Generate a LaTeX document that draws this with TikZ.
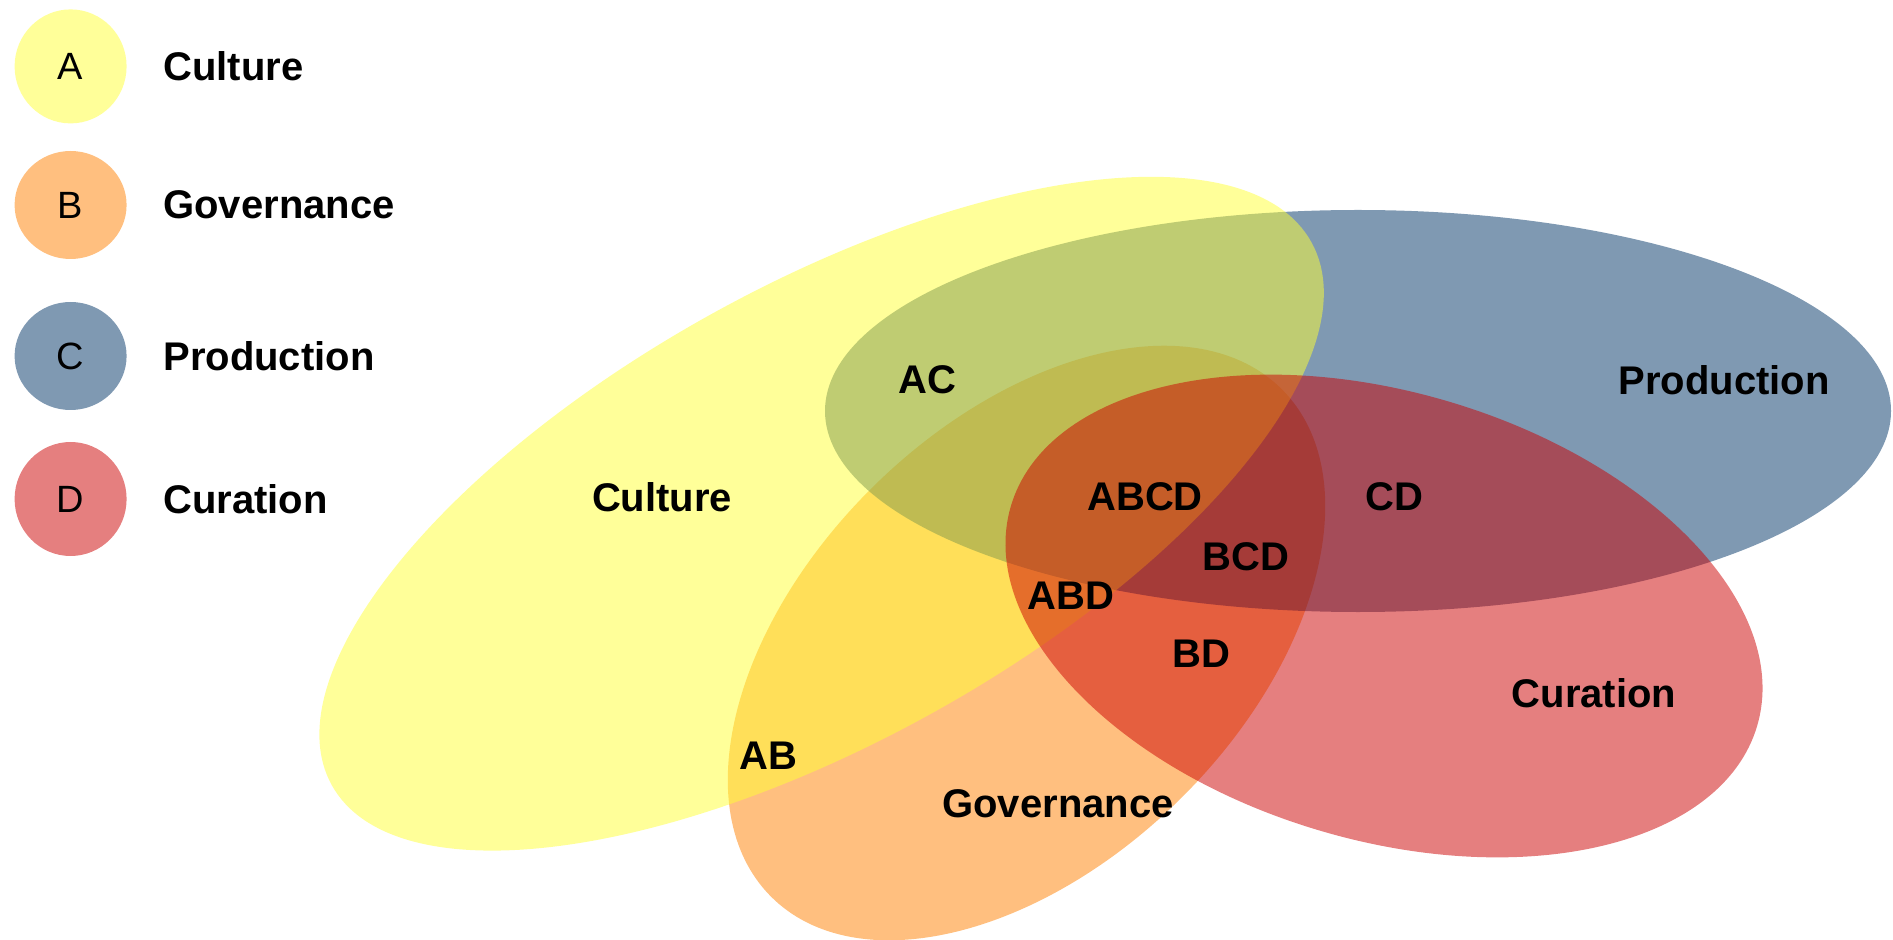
\documentclass[tikz,border=0pt]{standalone}
\usepackage{fontspec}
\setmainfont{Liberation Sans}
\definecolor{cA}{RGB}{255,255,51}
\definecolor{cB}{RGB}{255,128,0}
\definecolor{cC}{RGB}{0,51,102}
\definecolor{cD}{RGB}{204,0,0}
\begin{document}
\begin{tikzpicture}[x=0.5pt,y=0.5pt,
  lbl/.style={font=\fontsize{20}{24}\selectfont\bfseries, inner sep=0pt},
  key/.style={font=\fontsize{19}{22}\selectfont, inner sep=0pt},
  set/.style={fill opacity=0.5}]
\useasboundingbox (0,0) rectangle (1893,-940);
% big sets (order: B, C, A, D)
\fill[set, cB, rotate around={44.7:(1026.5,-643)}] (1026.5,-643) ellipse [x radius=360, y radius=219];
\fill[set, cC] (1358,-411) ellipse [x radius=533, y radius=201];
\fill[set, cA, rotate around={29:(821.6,-513.7)}] (821.6,-513.7) ellipse [x radius=560, y radius=228];
\fill[set, cD, rotate around={-16.4:(1384,-616)}] (1384,-616) ellipse [x radius=389, y radius=224];
% legend
\fill[set, cA] (70.6,-66.4) ellipse [x radius=56, y radius=57];
\fill[set, cB] (70.6,-205) ellipse [x radius=56, y radius=54];
\fill[set, cC] (70.6,-356) ellipse [x radius=56, y radius=54];
\fill[set, cD] (70.6,-499) ellipse [x radius=56, y radius=57];
\node[key] (kA) at (70.6,-66.4) {A};
\node[key] (kB) at (70.6,-205) {B};
\node[key] (kC) at (70.6,-356) {C};
\node[key] (kD) at (70.6,-499) {D};
\node[lbl, anchor=west] (tA) at (163,-66.4) {Culture};
\node[lbl, anchor=west] (tB) at (163,-205) {Governance};
\node[lbl, anchor=west] (tC) at (163,-356) {Production};
\node[lbl, anchor=west] (tD) at (163,-499) {Curation};
% region labels
\node[lbl] (lA) at (662,-497) {Culture};
\node[lbl] (lAC) at (927,-380) {AC};
\node[lbl] (lC) at (1724,-380) {Production};
\node[lbl] (lABCD) at (1145,-497) {ABCD};
\node[lbl] (lCD) at (1394,-497) {CD};
\node[lbl] (lBCD) at (1246,-557) {BCD};
\node[lbl] (lABD) at (1071,-596) {ABD};
\node[lbl] (lBD) at (1201,-654) {BD};
\node[lbl] (lD) at (1594,-693) {Curation};
\node[lbl] (lAB) at (768,-756) {AB};
\node[lbl] (lB) at (1058,-804) {Governance};
\end{tikzpicture}
\end{document}
